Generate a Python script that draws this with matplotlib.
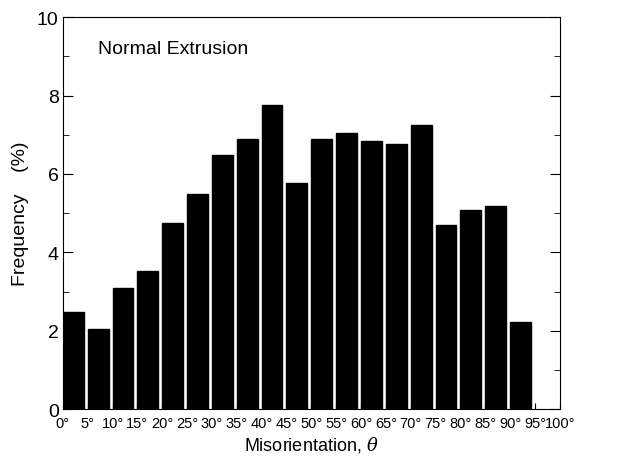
import numpy as np
import matplotlib
matplotlib.use("Agg")
import matplotlib.pyplot as plt
from matplotlib.ticker import MultipleLocator

plt.rcParams['font.family'] = ['Liberation Sans', 'DejaVu Sans']
plt.rcParams['mathtext.fontset'] = 'dejavuserif'

# bin start angles (deg) and frequency (%)
bin_start = [0, 5, 10, 15, 20, 25, 30, 35, 40, 45, 50, 55, 60, 65, 70, 75, 80, 85, 90]
freq = [2.49, 2.04, 3.08, 3.53, 4.75, 5.48, 6.49, 6.89, 7.76, 5.76,
        6.89, 7.04, 6.85, 6.76, 7.25, 4.71, 5.09, 5.17, 2.23]
tick_angles = list(range(0, 101, 5))
tick_labels = [f"{a}°" for a in tick_angles]

fig = plt.figure(figsize=(6.22, 4.64), dpi=100)
ax = fig.add_axes([0.101, 0.116, 0.799, 0.845])

ax.bar(bin_start, freq, width=4.2, align='edge', color='black', edgecolor='black')

ax.set_xlim(0, 100)
ax.set_ylim(0, 10)
ax.set_xticks(tick_angles)
ax.set_xticklabels(tick_labels, fontsize=10.5)
ax.yaxis.set_major_locator(MultipleLocator(2))
ax.yaxis.set_minor_locator(MultipleLocator(1))
ax.tick_params(axis='y', which='both', direction='in', right=True, labelsize=14, pad=3)
ax.tick_params(axis='y', which='major', length=7)
ax.tick_params(axis='y', which='minor', length=4)
ax.tick_params(axis='x', direction='in', length=4, pad=5)

ax.set_xlabel(r"Misorientation, $\theta$", fontsize=13, labelpad=3)
ax.set_ylabel("Frequency    (%)", fontsize=14, labelpad=6)
ax.text(7, 9.2, "Normal Extrusion", fontsize=14, va='center', ha='left')

fig.savefig("out.png", dpi=100)
